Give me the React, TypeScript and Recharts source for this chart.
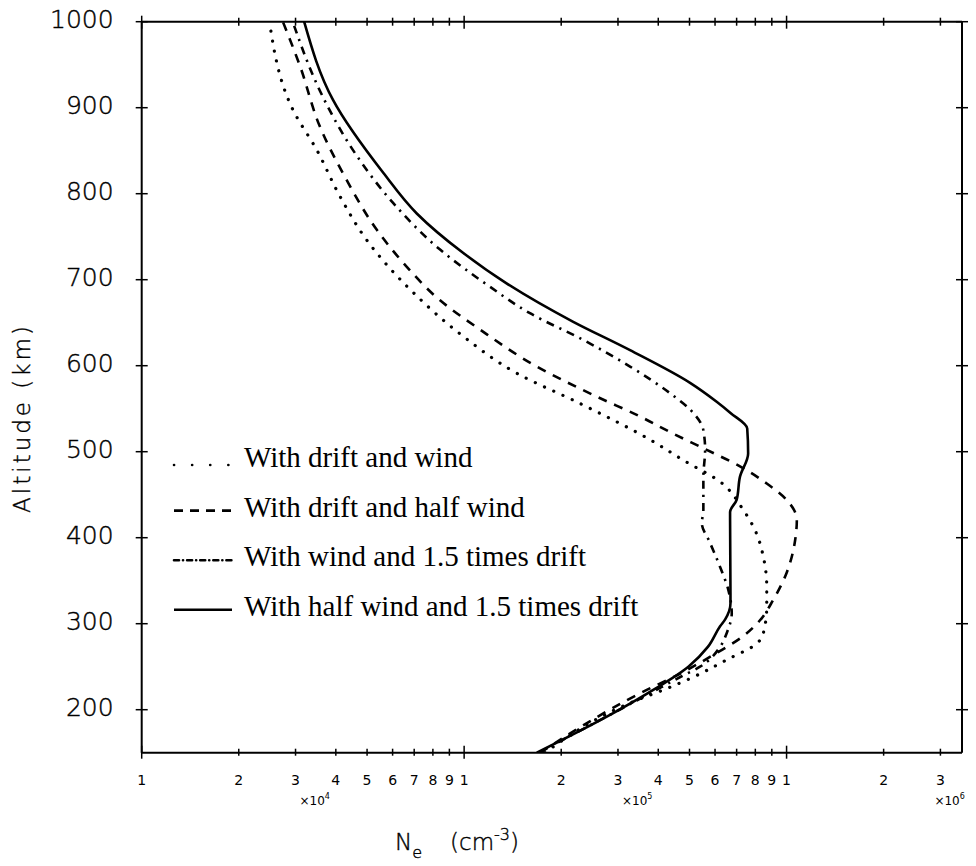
import React from 'react';
import { LineChart, Line, XAxis, YAxis, Legend } from 'recharts';

// tick values
const xTicks = [1e4, 2e4, 3e4, 4e4, 5e4, 6e4, 7e4, 8e4, 9e4, 1e5, 2e5, 3e5, 4e5, 5e5, 6e5, 7e5, 8e5, 9e5, 1e6, 2e6, 3e6];
const yTicks = [200, 300, 400, 500, 600, 700, 800, 900, 1000];

// With drift and wind (dotted)
const altDriftWind = [150, 211, 223, 238, 258, 277, 289, 320, 343, 378, 409, 432, 465, 490, 514, 556, 591, 634, 684, 746, 797, 851, 897, 1000];
const neDriftWind = [1.78e5, 3.43e5, 4.15e5, 5.14e5, 6.52e5, 8.09e5, 8.47e5, 8.68e5, 8.68e5, 8.47e5, 7.98e5, 7.35e5, 6.22e5, 4.79e5, 3.77e5, 2.29e5, 1.46e5, 9.94e4, 7.0e4, 4.99e4, 4.12e4, 3.49e4, 2.95e4, 2.49e4];

// With drift and half wind (dashed)
const altDriftHalf = [150, 219, 242, 266, 285, 304, 328, 359, 397, 421, 444, 463, 483, 504, 521, 541, 564, 599, 642, 676, 715, 758, 816, 878, 948, 1000];
const neDriftHalf = [1.72e5, 3.51e5, 4.68e5, 6.07e5, 7.3e5, 8.27e5, 9.1e5, 1.0e6, 1.063e6, 1.076e6, 1.0e6, 8.68e5, 7.17e5, 5.52e5, 4.45e5, 3.51e5, 2.58e5, 1.68e5, 1.12e5, 8.42e4, 6.64e4, 5.36e4, 4.32e4, 3.57e4, 3.1e4, 2.74e4];

// With wind and 1.5 times drift (dash-dot)
const altWind15 = [150, 219, 238, 250, 273, 289, 312, 339, 366, 394, 417, 432, 471, 502, 525, 549, 568, 599, 630, 661, 692, 735, 789, 847, 915, 1000];
const neWind15 = [1.7e5, 3.77e5, 4.68e5, 5.39e5, 6.22e5, 6.52e5, 6.76e5, 6.6e5, 6.22e5, 5.79e5, 5.46e5, 5.52e5, 5.52e5, 5.59e5, 5.52e5, 5.02e5, 4.35e5, 3.27e5, 2.34e5, 1.6e5, 1.2e5, 8.42e4, 6.03e4, 4.59e4, 3.62e4, 2.94e4];

// With half wind and 1.5 times drift (solid)
const altHalf15 = [150, 196, 223, 250, 273, 297, 305, 324, 430, 444, 471, 498, 527, 545, 558, 580, 618, 651, 696, 731, 777, 824, 909, 1000];
const neHalf15 = [1.68e5, 2.9e5, 3.86e5, 4.96e5, 5.7e5, 6.22e5, 6.45e5, 6.7e5, 6.68e5, 7.0e5, 7.17e5, 7.6e5, 7.55e5, 6.7e5, 6.07e5, 5.02e5, 3.27e5, 2.18e5, 1.35e5, 9.94e4, 7.13e4, 5.62e4, 3.92e4, 3.19e4];

const seriesNames = [
  'With drift and wind',
  'With drift and half wind',
  'With wind and 1.5 times drift',
  'With half wind and 1.5 times drift',
];

const rows = (alt: number[], ne: number[]) => alt.map((h, i) => ({ h, ne: ne[i] }));

const W = 976;
const H = 866;
const INK = '#000';
const tickFont = '"DejaVu Sans", sans-serif';
const serif = '"Liberation Serif", "Times New Roman", serif';

// line styles: dotted, dashed, dash-dot, solid
const plotDash = ['0.1 10', '9 8', '8 6 2.2 6', undefined];
const plotCap: ('round' | 'butt')[] = ['round', 'butt', 'butt', 'butt'];
const plotWidth = [3.2, 2.6, 2.6, 2.6];
const legendDash = ['0.1 18', '9 7', '5 4 0.1 4', undefined];

function mantissa(v: number) {
  const e = Math.floor(Math.log10(v) + 1e-9);
  return { m: Math.round(v / 10 ** e), e };
}

const BottomTick = (props: any) => {
  const { x, y, payload } = props;
  const { m, e } = mantissa(payload.value);
  const major = m === 1;
  return (
    <g>
      <line x1={x} x2={x} y1={y - (major ? 7 : 4)} y2={y + (major ? 6 : 3)} stroke={INK} strokeWidth={1.5} />
      <text x={x} y={y + 32} textAnchor="middle" fontSize={14} fontFamily={tickFont} fill={INK}>{m}</text>
      {m === 3 && (
        <text x={e >= 6 ? x - 6 : x + 4} y={y + 52} fontSize={12} fontFamily={tickFont} fill={INK}>
          ×10<tspan dy={-6} fontSize={8}>{e}</tspan>
        </text>
      )}
    </g>
  );
};

const TopTick = (props: any) => {
  const { x, y, payload } = props;
  const major = mantissa(payload.value).m === 1;
  return <line x1={x} x2={x} y1={y - (major ? 6 : 4)} y2={y + (major ? 7 : 4)} stroke={INK} strokeWidth={1.5} />;
};

const LeftTick = (props: any) => {
  const { x, y, payload } = props;
  return (
    <g>
      <line x1={x - 6} x2={x + 6} y1={y} y2={y} stroke={INK} strokeWidth={1.5} />
      <text x={x - 28} y={y + 6} textAnchor="end" fontSize={25} fontFamily={tickFont} fontWeight={200}
        fill={INK} stroke={INK} strokeWidth={0.4}>
        {payload.value}
      </text>
    </g>
  );
};

const RightTick = (props: any) => {
  const { x, y } = props;
  return <line x1={x - 6} x2={x + 6} y1={y} y2={y} stroke={INK} strokeWidth={1.5} />;
};

const Overlay = () => (
  <svg width={W} height={H} style={{ position: 'absolute', left: 0, top: 0, overflow: 'visible' }}>
    {seriesNames.map((name, i) => {
      const yc = 458 + i * 49.6;
      const ly = i === 0 ? yc + 7 : yc + 3;
      return (
        <g key={name}>
          <line x1={174} x2={232} y1={ly} y2={ly} stroke={INK} strokeWidth={2.6}
            strokeDasharray={legendDash[i]} strokeLinecap={i === 0 || i === 2 ? 'round' : 'butt'} />
          <text x={244} y={yc + 9} fontSize={29} fontFamily={serif} fill={INK}>{name}</text>
        </g>
      );
    })}
    <text x={0} y={0} transform="translate(30 418) rotate(-90)" textAnchor="middle" fontSize={23}
      fontFamily={tickFont} fontWeight={200} letterSpacing={3} fill={INK} stroke={INK} strokeWidth={0.4}>
      Altitude (km)
    </text>
    <text x={395} y={850} fontSize={23} fontFamily={tickFont} fontWeight={200} fill={INK} stroke={INK} strokeWidth={0.4}>
      N<tspan dy={8} fontSize={16}>e</tspan>
      <tspan dy={-8} dx={28}>(cm</tspan>
      <tspan dy={-10} fontSize={16}>-3</tspan>
      <tspan dy={10}>)</tspan>
    </text>
  </svg>
);

export default function App() {
  const data = [
    rows(altDriftWind, neDriftWind),
    rows(altDriftHalf, neDriftHalf),
    rows(altWind15, neWind15),
    rows(altHalf15, neHalf15),
  ];
  return (
    <div style={{ position: 'absolute', left: 0, top: 0 }}>
      <LineChart
        layout="vertical"
        width={W}
        height={H}
        margin={{ top: 20.7, right: 13, bottom: 112.3, left: 140.7 }}
        style={{ background: '#fff' }}
      >
        <XAxis xAxisId="bottom" orientation="bottom" type="number" dataKey="ne" scale="log"
          domain={[1e4, 3.5e6]} allowDataOverflow ticks={xTicks} interval={0} height={1}
          tickSize={0} tickMargin={0} tickLine={false} axisLine={{ stroke: INK, strokeWidth: 2 }} tick={<BottomTick />} />
        <XAxis xAxisId="top" orientation="top" type="number" scale="log"
          domain={[1e4, 3.5e6]} allowDataOverflow ticks={xTicks} interval={0} height={1}
          tickSize={0} tickMargin={0} tickLine={false} axisLine={{ stroke: INK, strokeWidth: 2 }} tick={<TopTick />} />
        <YAxis yAxisId="left" orientation="left" type="number" dataKey="h" domain={[150, 1000]} reversed
          allowDataOverflow ticks={yTicks} interval={0} width={1}
          tickSize={0} tickMargin={0} tickLine={false} axisLine={{ stroke: INK, strokeWidth: 2 }} tick={<LeftTick />} />
        <YAxis yAxisId="right" orientation="right" type="number" dataKey="h" domain={[150, 1000]} reversed
          allowDataOverflow ticks={yTicks} interval={0} width={1}
          tickSize={0} tickMargin={0} tickLine={false} axisLine={{ stroke: INK, strokeWidth: 2 }} tick={<RightTick />} />
        {data.map((d, i) => (
          <Line key={seriesNames[i]} name={seriesNames[i]} data={d} dataKey="ne"
            xAxisId="bottom" yAxisId="left" type="monotone" stroke={INK} strokeWidth={plotWidth[i]}
            strokeDasharray={plotDash[i]} strokeLinecap={plotCap[i]}
            dot={false} activeDot={false} isAnimationActive={false} />
        ))}
        <Legend content={<Overlay />}
          wrapperStyle={{ position: 'absolute', left: 0, top: 0, bottom: 'auto', width: 0, height: 0, overflow: 'visible' }} />
      </LineChart>
    </div>
  );
}
